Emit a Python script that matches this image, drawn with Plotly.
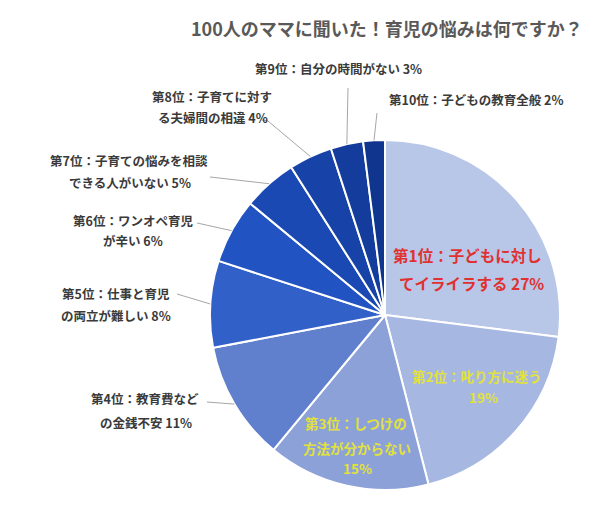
import math
import plotly.graph_objects as go

# survey data (100 mothers)
ranks = [1, 2, 3, 4, 5, 6, 7, 8, 9, 10]
categories = [
    "子どもに対してイライラする",
    "叱り方に迷う",
    "しつけの方法が分からない",
    "教育費などの金銭不安",
    "仕事と育児の両立が難しい",
    "ワンオペ育児が辛い",
    "子育ての悩みを相談できる人がいない",
    "子育てに対する夫婦間の相違",
    "自分の時間がない",
    "子どもの教育全般",
]
values = [27, 19, 15, 11, 8, 6, 5, 4, 3, 2]

# how each label is broken into lines, {v} = percent
label_lines = [
    ["第{r}位：子どもに対し", "てイライラする {v}%"],
    ["第{r}位：叱り方に迷う", "{v}%"],
    ["第{r}位：しつけの", "方法が分からない", "{v}%"],
    ["第{r}位：教育費など", "の金銭不安 {v}%"],
    ["第{r}位：仕事と育児", "の両立が難しい {v}%"],
    ["第{r}位：ワンオペ育児", "が辛い {v}%"],
    ["第{r}位：子育ての悩みを相談", "できる人がいない {v}%"],
    ["第{r}位：子育てに対す", "る夫婦間の相違 {v}%"],
    ["第{r}位：自分の時間がない {v}%"],
    ["第{r}位：子どもの教育全般 {v}%"],
]

title = "100人のママに聞いた！育児の悩みは何ですか？"

# ---- layout / style ----
W, H = 605, 507
CX, CY, R = 385, 315, 175

colors = ["#B8C6E8", "#A6B7E2", "#8DA1D9", "#6080CD", "#3060C8",
          "#2153C2", "#1B49B4", "#1743A8", "#133C9C", "#10358F"]

text_pos = [
    [(467, 255), (471, 283)],
    [(477, 376), (483, 397)],
    [(356, 423), (357, 448), (357, 468)],
    [(145, 398), (146, 422)],
    [(116, 293), (116, 315)],
    [(133, 220), (133, 240)],
    [(129, 160), (130, 182)],
    [(212, 97), (213, 118)],
    [(338, 68)],
    [(477, 99)],
]
# leader line start points (None = label sits inside slice)
leader_start = [None, None, None,
                [(207, 402)], [(177, 294)], [(197, 223)], [(210, 177)],
                [(262, 120), (268, 121)], [(348, 88)], [(377, 113)]]

label_style = [
    dict(size=15.5, color="#E03131"),
    dict(size=13.5, color="#E2E23A"),
    dict(size=13.5, color="#E2E23A"),
] + [dict(size=12.5, color="#3A3A3A")] * 7

FONT = "Noto Sans CJK JP"


def px(x):
    return x / W


def py(y):
    return 1 - y / H


fig = go.Figure()
fig.add_trace(go.Pie(
    labels=categories, values=values,
    sort=False, direction="clockwise", rotation=0,
    marker=dict(colors=colors, line=dict(color="white", width=2)),
    textinfo="none", hoverinfo="label+percent",
    domain=dict(x=[px(CX - R), px(CX + R)], y=[py(CY + R), py(CY - R)]),
    showlegend=False,
))

annotations = [dict(
    text="<b>" + title + "</b>", x=px(387), y=py(28), xref="paper", yref="paper",
    showarrow=False, xanchor="center", yanchor="middle",
    font=dict(family=FONT, size=18, color="#595959"),
)]

shapes = []
total = sum(values)
cum = 0
for i, v in enumerate(values):
    mid = (cum + v / 2) / total * 2 * math.pi
    cum += v
    for line, (x, y) in zip(label_lines[i], text_pos[i]):
        annotations.append(dict(
            text="<b>" + line.format(r=ranks[i], v=v) + "</b>",
            x=px(x), y=py(y), xref="paper", yref="paper",
            showarrow=False, xanchor="center", yanchor="middle",
            font=dict(family=FONT, **label_style[i]),
        ))
    if leader_start[i]:
        ex = CX + R * math.sin(mid)
        ey = CY - R * math.cos(mid)
        pts = leader_start[i] + [(ex, ey)]
        path = "M " + " L ".join(f"{px(a):.4f},{py(b):.4f}" for a, b in pts)
        shapes.append(dict(type="path", path=path, xref="paper", yref="paper",
                           line=dict(color="#A6A6A6", width=1)))

fig.update_layout(
    width=W, height=H,
    margin=dict(l=0, r=0, t=0, b=0),
    paper_bgcolor="white", plot_bgcolor="white",
    annotations=annotations, shapes=shapes,
)

# drop the browser's default 8px body margin so the figure sits at 0,0
fig.write_html("out.html", config={"displayModeBar": False},
               post_script="document.body.style.margin='0';")
